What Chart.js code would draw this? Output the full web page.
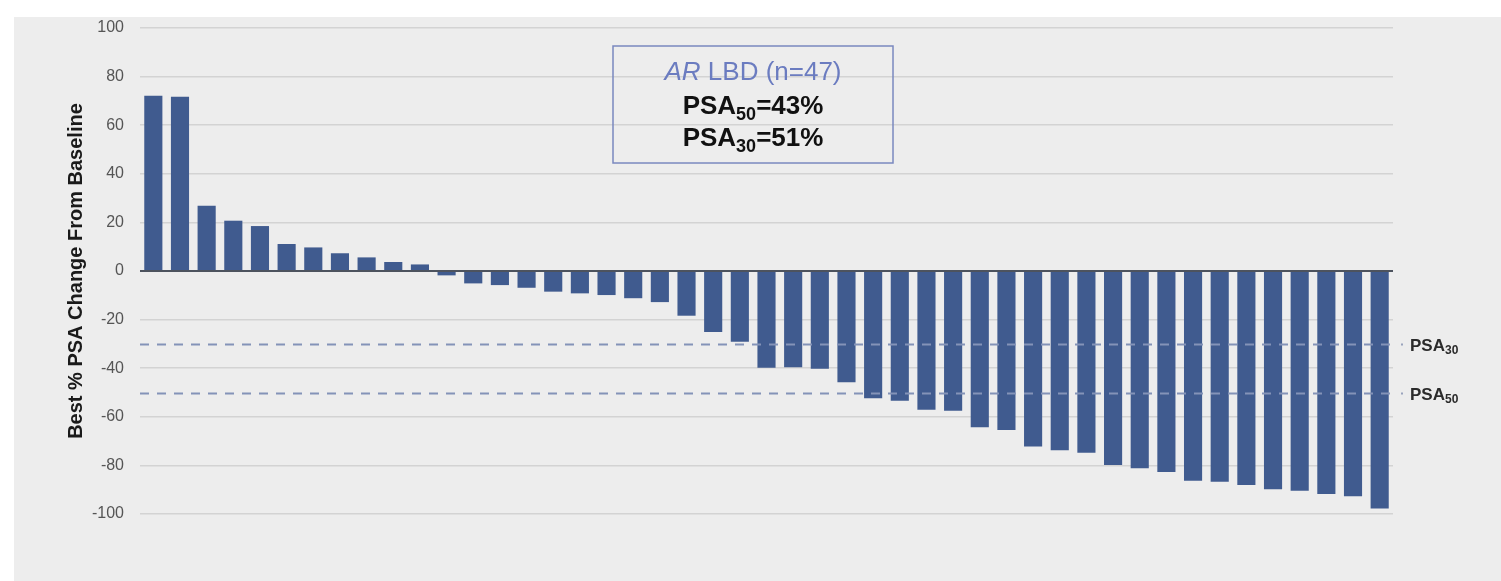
<!DOCTYPE html>
<html>
<head>
<meta charset="utf-8">
<script src="https://cdn.jsdelivr.net/npm/chart.js@4.4.1/dist/chart.umd.min.js"></script>
<style>
  html, body { margin: 0; padding: 0; background: #ffffff; }
  #wrap { width: 1501px; height: 581px; position: relative; }
</style>
</head>
<body>
<div id="wrap"><canvas id="c" width="1501" height="581"></canvas></div>
<script>
// ---- data ----
const patients = Array.from({length: 47}, (_, i) => 'P' + (i + 1));
const psaChange = [72.1, 71.7, 26.9, 20.7, 18.5, 11.1, 9.7, 7.3, 5.6, 3.7, 2.7,
  -1.8, -5.1, -5.8, -6.9, -8.5, -9.2, -9.9, -11.2, -12.8, -18.4, -25.1, -29.1,
  -39.8, -39.6, -40.2, -45.8, -52.4, -53.4, -57.1, -57.5, -64.3, -65.4, -72.2,
  -73.8, -74.8, -79.8, -81.2, -82.7, -86.3, -86.7, -88.1, -89.8, -90.4, -91.8,
  -92.7, -97.7];
const thresholdValues = [-30, -50];
const thresholdSubs = ['30', '50'];
const yTicks = [100, 80, 60, 40, 20, 0, -20, -40, -60, -80, -100];
const boxTitle = 'AR LBD (n=47)';
const boxLines = [['PSA', '50', '=43%'], ['PSA', '30', '=51%']];

const FONT = '"Liberation Sans", Arial, Helvetica, sans-serif';

const bgPlugin = {
  id: 'bg',
  beforeDraw(chart) {
    const ctx = chart.ctx;
    ctx.save();
    ctx.fillStyle = '#ffffff';
    ctx.fillRect(0, 0, chart.width, chart.height);
    ctx.fillStyle = '#ededed';
    ctx.fillRect(14, 17, chart.width - 14, chart.height - 17);
    ctx.restore();
  }
};

function drawSubText(ctx, x, y, parts, size, color, align) {
  const mainF = 'bold ' + size + 'px ' + FONT;
  const subF = 'bold ' + Math.round(size * 0.68) + 'px ' + FONT;
  ctx.font = mainF; const w1 = ctx.measureText(parts[0]).width;
  ctx.font = subF; const w2 = ctx.measureText(parts[1]).width;
  ctx.font = mainF; const w3 = parts[2] ? ctx.measureText(parts[2]).width : 0;
  const total = w1 + w2 + w3;
  let sx = align === 'center' ? x - total / 2 : x;
  ctx.fillStyle = color;
  ctx.textBaseline = 'alphabetic';
  ctx.textAlign = 'left';
  ctx.font = mainF; ctx.fillText(parts[0], sx, y);
  ctx.font = subF; ctx.fillText(parts[1], sx + w1, y + size * 0.22);
  if (parts[2]) { ctx.font = mainF; ctx.fillText(parts[2], sx + w1 + w2, y); }
}

const overlayPlugin = {
  id: 'overlay',
  afterDatasetsDraw(chart) {
    const ctx = chart.ctx;
    const y = chart.scales.y;
    const area = chart.chartArea;
    ctx.save();
    // zero line
    ctx.strokeStyle = '#4d535e';
    ctx.lineWidth = 2;
    ctx.beginPath();
    ctx.moveTo(area.left, y.getPixelForValue(0));
    ctx.lineTo(area.right, y.getPixelForValue(0));
    ctx.stroke();
    // threshold lines
    thresholdValues.forEach((v, i) => {
      const py = Math.round(y.getPixelForValue(v)) + 0.5;
      ctx.strokeStyle = '#8493b8';
      ctx.lineWidth = 2;
      ctx.setLineDash([9, 8]);
      ctx.beginPath();
      ctx.moveTo(area.left, py);
      ctx.lineTo(area.right + 2, py);
      ctx.stroke();
      ctx.setLineDash([]);
      ctx.fillStyle = '#9aa4bd';
      ctx.fillRect(area.right + 8, py - 1, 2, 2);
      drawSubText(ctx, area.right + 17, py + 6, ['PSA', thresholdSubs[i], ''], 17, '#2b2b2b', 'left');
    });
    // info box
    const bx = 613, by = 46, bw = 280, bh = 117;
    ctx.strokeStyle = '#7a88bf';
    ctx.lineWidth = 1.5;
    ctx.strokeRect(bx, by, bw, bh);
    const cx = bx + bw / 2;
    const s = 26;
    const f1 = 'italic ' + s + 'px ' + FONT;
    const f2 = s + 'px ' + FONT;
    const p1 = 'AR', p2 = boxTitle.slice(2);
    ctx.font = f1; const w1 = ctx.measureText(p1).width;
    ctx.font = f2; const w2 = ctx.measureText(p2).width;
    let sx = cx - (w1 + w2) / 2;
    ctx.fillStyle = '#6b7cc0';
    ctx.textAlign = 'left';
    ctx.textBaseline = 'alphabetic';
    ctx.font = f1; ctx.fillText(p1, sx, 80);
    ctx.font = f2; ctx.fillText(p2, sx + w1, 80);
    drawSubText(ctx, cx, 114, boxLines[0], 26, '#111111', 'center');
    drawSubText(ctx, cx, 146, boxLines[1], 26, '#111111', 'center');
    ctx.restore();
  }
};

new Chart(document.getElementById('c'), {
  type: 'bar',
  data: {
    labels: patients,
    datasets: [{
      data: psaChange,
      backgroundColor: '#405b8f',
      borderWidth: 0,
      barPercentage: 0.68,
      categoryPercentage: 1.0
    }]
  },
  options: {
    responsive: false,
    animation: false,
    devicePixelRatio: 1,
    layout: { padding: { left: 0, right: 108, top: 28, bottom: 67 } },
    plugins: { legend: { display: false }, tooltip: { enabled: false } },
    scales: {
      x: { display: false, offset: true },
      y: {
        min: -100, max: 100,
        afterBuildTicks(scale) { scale.ticks = yTicks.map(v => ({ value: v })); },
        afterFit(scale) { scale.width = 140; },
        border: { display: false },
        grid: { color: '#d3d3d3', lineWidth: 1.5, drawTicks: false },
        ticks: {
          padding: 16,
          color: '#555555',
          font: { family: FONT, size: 16 },
        },
        title: {
          display: true,
          text: 'Best % PSA Change From Baseline',
          color: '#1a1a1a',
          font: { family: FONT, size: 20, weight: 'bold' },
          padding: { top: 64, bottom: 0 }
        }
      }
    }
  },
  plugins: [bgPlugin, overlayPlugin]
});
</script>
</body>
</html>
